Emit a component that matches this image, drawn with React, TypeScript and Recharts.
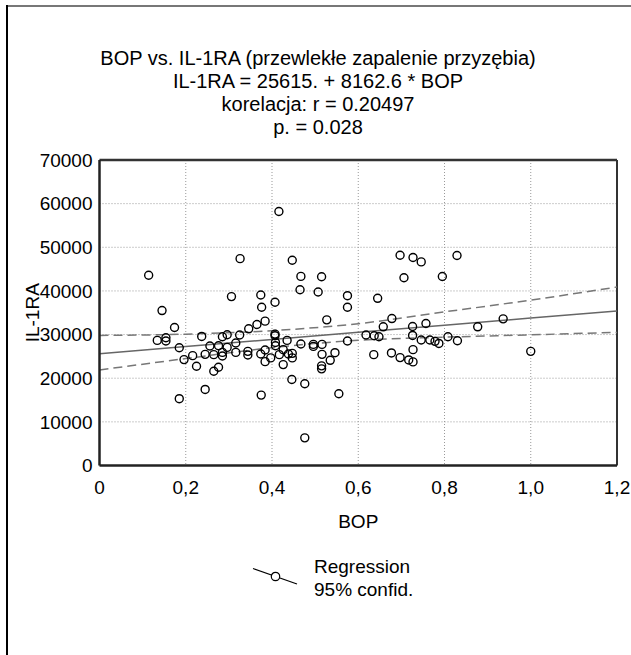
import React from 'react'
import {
  ComposedChart,
  Scatter,
  Line,
  XAxis,
  YAxis,
  CartesianGrid,
  ReferenceLine,
} from 'recharts'

// BOP (x) and IL-1RA (y)
const bopValues = [
  0.114, 0.326, 0.306, 0.374, 0.376, 0.145, 0.416, 0.447, 0.467, 0.515,
  0.465, 0.507, 0.575, 0.575, 0.645, 0.697, 0.727, 0.746, 0.706, 0.407,
  0.795, 0.829, 0.134, 0.154, 0.154, 0.174, 0.185, 0.196, 0.185, 0.216,
  0.225, 0.237, 0.245, 0.245, 0.256, 0.265, 0.265, 0.276, 0.276, 0.285,
  0.285, 0.285, 0.296, 0.296, 0.316, 0.316, 0.325, 0.346, 0.365, 0.384,
  0.344, 0.344, 0.374, 0.384, 0.384, 0.375, 0.407, 0.407, 0.408, 0.408,
  0.397, 0.417, 0.426, 0.435, 0.426, 0.438, 0.447, 0.447, 0.446, 0.467,
  0.476, 0.476, 0.496, 0.496, 0.516, 0.516, 0.515, 0.515, 0.535, 0.546,
  0.527, 0.555, 0.575, 0.618, 0.637, 0.648, 0.636, 0.658, 0.678, 0.677,
  0.697, 0.717, 0.727, 0.727, 0.726, 0.726, 0.746, 0.757, 0.766, 0.778,
  0.787, 0.808, 0.83, 0.877, 0.936, 1.0,
]
const il1raValues = [
  43600, 47400, 38700, 39070, 36270, 35500, 58200, 47040, 43330, 43240,
  40280, 39750, 38910, 36260, 38310, 48180, 47650, 46650, 43010, 37400,
  43300, 48110, 28660, 29270, 28520, 31620, 26990, 24260, 15310, 25170,
  22740, 29570, 17430, 25470, 27380, 25400, 21600, 22510, 27450, 29500,
  25920, 25100, 27060, 29960, 28060, 25920, 29890, 31320, 32300, 33070,
  26150, 25330, 25560, 26470, 23800, 16130, 30110, 29730, 28200, 27450,
  24650, 25400, 26540, 28660, 23120, 25560, 25700, 24650, 19700, 27840,
  18730, 6330, 27750, 27290, 27750, 25470, 22830, 22140, 24100, 25850,
  33370, 16450, 28520, 29890, 29730, 29500, 25400, 31780, 33670, 25790,
  24720, 24190, 23740, 26540, 29800, 31850, 28750, 32530, 28750, 28450,
  27970, 29500, 28590, 31780, 33600, 26150,
]

// regression line and 95% band, read at these BOP values
const bandBop = [0, 0.2, 0.4, 0.6, 0.8, 1.0, 1.2]
const fitValues = [25615, 27250, 28880, 30510, 32150, 33780, 35410]
const upperValues = [29800, 30100, 30900, 32500, 35200, 37900, 40900]
const lowerValues = [21900, 24500, 27000, 28700, 29400, 29950, 30500]

const xTicks = [0, 0.2, 0.4, 0.6, 0.8, 1.0, 1.2]
const yTicks = [0, 10000, 20000, 30000, 40000, 50000, 60000, 70000]

const titleLines = [
  'BOP vs. IL-1RA (przewlekłe zapalenie przyzębia)',
  'IL-1RA = 25615. + 8162.6 * BOP',
  'korelacja: r = 0.20497',
  'p. = 0.028',
]

const points = bopValues.map((x, i) => ({ x, y: il1raValues[i] }))
const fitData = bandBop.map((x, i) => ({ x, y: fitValues[i] }))
const upperData = bandBop.map((x, i) => ({ x, y: upperValues[i] }))
const lowerData = bandBop.map((x, i) => ({ x, y: lowerValues[i] }))

const FONT = '"Liberation Sans", Arial, Helvetica, sans-serif'

const Ring = (props: any) => (
  <circle cx={props.cx} cy={props.cy} r={4} fill="none" stroke="#000" strokeWidth={1.4} />
)

const fmtX = (v: number) => (v === 0 ? '0' : v.toFixed(1).replace('.', ','))

export default function App() {
  return (
    <div
      style={{
        position: 'absolute',
        left: 0,
        top: 0,
        width: 631,
        height: 655,
        background: '#fff',
        fontFamily: FONT,
        color: '#000',
        overflow: 'hidden',
      }}
    >
      {/* frame */}
      <div style={{ position: 'absolute', left: 7, top: 5, width: 624, height: 2, background: '#777' }} />
      <div style={{ position: 'absolute', left: 6, top: 5, width: 2, height: 650, background: '#000' }} />

      <div
        style={{
          position: 'absolute',
          left: 8,
          top: 47,
          width: 620,
          textAlign: 'center',
          fontSize: 20,
          lineHeight: '23px',
        }}
      >
        {titleLines.map((t) => (
          <div key={t}>{t}</div>
        ))}
      </div>

      <div style={{ position: 'absolute', left: 0, top: 0 }}>
        <ComposedChart
          width={631}
          height={655}
          margin={{ top: 160, right: 14, bottom: 119.5, left: 20 }}
        >
          <CartesianGrid stroke="#999" strokeDasharray="1 2" />
          <XAxis
            type="number"
            dataKey="x"
            domain={[0, 1.2]}
            ticks={xTicks}
            tickFormatter={fmtX}
            tickLine={false}
            tickSize={6}
            tickMargin={9}
            height={70}
            axisLine={{ stroke: '#222', strokeWidth: 2.5 }}
            tick={{ fill: '#000', fontSize: 19 }}
            allowDataOverflow
            label={{ value: 'BOP', position: 'insideBottom', offset: 8, fill: '#000', fontSize: 19 }}
          />
          <YAxis
            type="number"
            dataKey="y"
            domain={[0, 70000]}
            ticks={yTicks}
            tickLine={false}
            tickSize={6}
            tickMargin={1}
            width={79.5}
            axisLine={{ stroke: '#222', strokeWidth: 2.5 }}
            tick={{ fill: '#000', fontSize: 19 }}
            allowDataOverflow
            label={{
              value: 'IL-1RA',
              angle: -90,
              position: 'insideLeft',
              offset: 12,
              fill: '#000',
              fontSize: 19,
              style: { textAnchor: 'middle' },
            }}
          />
          <ReferenceLine y={70000} stroke="#333" strokeWidth={2.5} />
          <ReferenceLine x={1.2} stroke="#333" strokeWidth={2} />
          <Line
            data={upperData}
            dataKey="y"
            type="monotone"
            stroke="#777"
            strokeWidth={1.5}
            strokeDasharray="9 5"
            dot={false}
            isAnimationActive={false}
          />
          <Line
            data={lowerData}
            dataKey="y"
            type="monotone"
            stroke="#777"
            strokeWidth={1.5}
            strokeDasharray="9 5"
            dot={false}
            isAnimationActive={false}
          />
          <Line
            data={fitData}
            dataKey="y"
            type="linear"
            stroke="#666"
            strokeWidth={1.5}
            dot={false}
            isAnimationActive={false}
          />
          <Scatter data={points} dataKey="y" shape={Ring} isAnimationActive={false} />
        </ComposedChart>
      </div>

      {/* legend */}
      <svg style={{ position: 'absolute', left: 250, top: 562 }} width={50} height={26}>
        <line x1={3} y1={6.5} x2={47} y2={22} stroke="#000" strokeWidth={1.2} />
        <circle cx={25.5} cy={14.5} r={4.2} fill="#fff" stroke="#000" strokeWidth={1.2} />
      </svg>
      <div
        style={{
          position: 'absolute',
          left: 314,
          top: 555,
          fontSize: 19,
          lineHeight: '23px',
        }}
      >
        <div>Regression</div>
        <div>95% confid.</div>
      </div>
    </div>
  )
}
